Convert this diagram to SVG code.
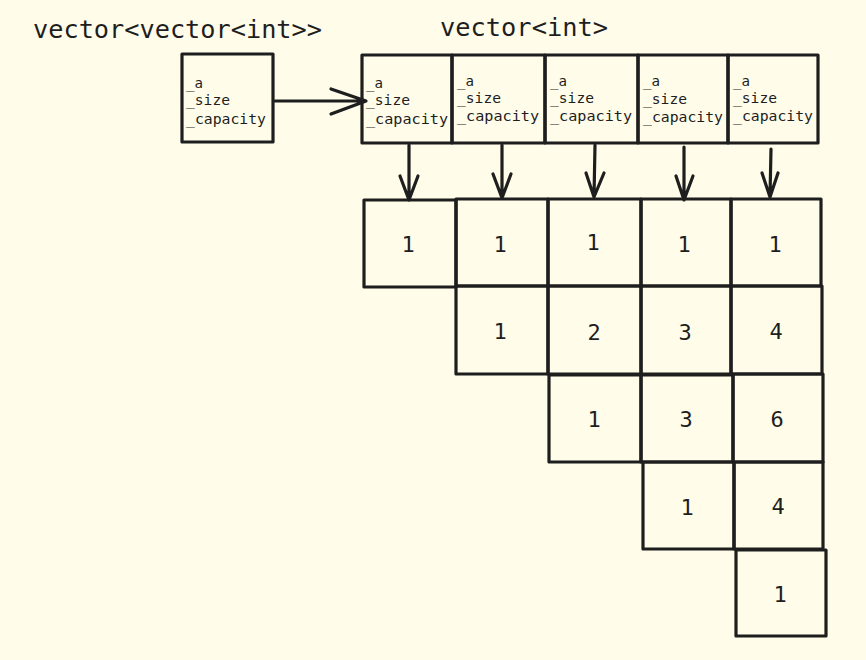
<svg xmlns="http://www.w3.org/2000/svg" width="866" height="660" viewBox="0 0 866 660">
<defs>
<style>
.bx{fill:none;stroke:#1e1e1e;stroke-width:3.2;stroke-linejoin:round}
.ln{fill:none;stroke:#1e1e1e;stroke-width:3.2;stroke-linecap:round;stroke-linejoin:round}
.t{font-family:"DejaVu Sans Mono","Liberation Mono",monospace;fill:#1e1e1e}
.title{font-size:24px}
.f{font-size:14px}
.n{font-size:22px;text-anchor:middle;dominant-baseline:central}
</style>
</defs>
<rect width="866" height="660" fill="#fffdea"/>
<text class="t title" x="33" y="38" textLength="289" lengthAdjust="spacingAndGlyphs">vector&lt;vector&lt;int&gt;&gt;</text>
<text class="t title" x="440" y="36" textLength="168" lengthAdjust="spacingAndGlyphs">vector&lt;int&gt;</text>

<g id="outer">
<rect class="bx" x="182" y="54" width="91" height="88"/>
<text class="t f" x="186" y="88" textLength="17" lengthAdjust="spacingAndGlyphs">_a</text>
<text class="t f" x="186" y="105" textLength="44" lengthAdjust="spacingAndGlyphs">_size</text>
<text class="t f" x="186" y="124" textLength="80" lengthAdjust="spacingAndGlyphs">_capacity</text>
</g>
<g id="inner0">
<rect class="bx" x="362" y="55" width="90" height="88"/>
<text class="t f" x="366" y="88" textLength="17" lengthAdjust="spacingAndGlyphs">_a</text>
<text class="t f" x="366" y="105" textLength="44" lengthAdjust="spacingAndGlyphs">_size</text>
<text class="t f" x="366" y="124" textLength="82" lengthAdjust="spacingAndGlyphs">_capacity</text>
</g>
<g id="inner1">
<rect class="bx" x="452" y="55" width="93" height="88"/>
<text class="t f" x="457" y="86" textLength="17" lengthAdjust="spacingAndGlyphs">_a</text>
<text class="t f" x="457" y="103" textLength="44" lengthAdjust="spacingAndGlyphs">_size</text>
<text class="t f" x="457" y="121" textLength="82" lengthAdjust="spacingAndGlyphs">_capacity</text>
</g>
<g id="inner2">
<rect class="bx" x="545" y="55" width="93" height="88"/>
<text class="t f" x="550" y="86" textLength="17" lengthAdjust="spacingAndGlyphs">_a</text>
<text class="t f" x="550" y="103" textLength="44" lengthAdjust="spacingAndGlyphs">_size</text>
<text class="t f" x="550" y="121" textLength="82" lengthAdjust="spacingAndGlyphs">_capacity</text>
</g>
<g id="inner3">
<rect class="bx" x="638" y="55" width="90" height="88"/>
<text class="t f" x="643" y="86" textLength="17" lengthAdjust="spacingAndGlyphs">_a</text>
<text class="t f" x="643" y="104" textLength="44" lengthAdjust="spacingAndGlyphs">_size</text>
<text class="t f" x="643" y="122" textLength="80" lengthAdjust="spacingAndGlyphs">_capacity</text>
</g>
<g id="inner4">
<rect class="bx" x="728" y="55" width="90" height="88"/>
<text class="t f" x="733" y="86" textLength="17" lengthAdjust="spacingAndGlyphs">_a</text>
<text class="t f" x="733" y="103" textLength="44" lengthAdjust="spacingAndGlyphs">_size</text>
<text class="t f" x="733" y="121" textLength="80" lengthAdjust="spacingAndGlyphs">_capacity</text>
</g>

<g id="connectors">
<path class="ln" d="M275 101 L366 101 M331 89 L366 101 L331 114"/>
<path class="ln" d="M409 145 L409 200 M400 176 L409 200 L418 176"/>
<path class="ln" d="M502 145 L502 198 M493 174 L502 198 L511 174"/>
<path class="ln" d="M595 145 L594 197 M586 173 L594 197 L604 173"/>
<path class="ln" d="M684 147 L684 200 M676 176 L684 200 L693 176"/>
<path class="ln" d="M771 149 L770 197 M762 173 L770 197 L778 173"/>
</g>

<g id="c0r0"><rect class="bx" x="364" y="200" width="92" height="87"/><text class="t n" x="408" y="244">1</text></g>
<g id="c1r0"><rect class="bx" x="456" y="199" width="92" height="87"/><text class="t n" x="500" y="244">1</text></g>
<g id="c2r0"><rect class="bx" x="548" y="199" width="93" height="87"/><text class="t n" x="593" y="242">1</text></g>
<g id="c3r0"><rect class="bx" x="641" y="199" width="90" height="87"/><text class="t n" x="684" y="244">1</text></g>
<g id="c4r0"><rect class="bx" x="731" y="199" width="90" height="87"/><text class="t n" x="775" y="244">1</text></g>

<g id="c1r1"><rect class="bx" x="456" y="286" width="92" height="88"/><text class="t n" x="500" y="331">1</text></g>
<g id="c2r1"><rect class="bx" x="548" y="286" width="93" height="88"/><text class="t n" x="594" y="332">2</text></g>
<g id="c3r1"><rect class="bx" x="641" y="286" width="90" height="88"/><text class="t n" x="685" y="332">3</text></g>
<g id="c4r1"><rect class="bx" x="731" y="286" width="91" height="88"/><text class="t n" x="776" y="331">4</text></g>

<g id="c2r2"><rect class="bx" x="549" y="375" width="92" height="87"/><text class="t n" x="594" y="419">1</text></g>
<g id="c3r2"><rect class="bx" x="641" y="375" width="92" height="87"/><text class="t n" x="686" y="419">3</text></g>
<g id="c4r2"><rect class="bx" x="733" y="374" width="90" height="88"/><text class="t n" x="777" y="419">6</text></g>

<g id="c3r3"><rect class="bx" x="643" y="462" width="91" height="87"/><text class="t n" x="687" y="507">1</text></g>
<g id="c4r3"><rect class="bx" x="734" y="462" width="89" height="87"/><text class="t n" x="778" y="506">4</text></g>

<g id="c4r4"><rect class="bx" x="736" y="550" width="90" height="86"/><text class="t n" x="780" y="594">1</text></g>
</svg>
